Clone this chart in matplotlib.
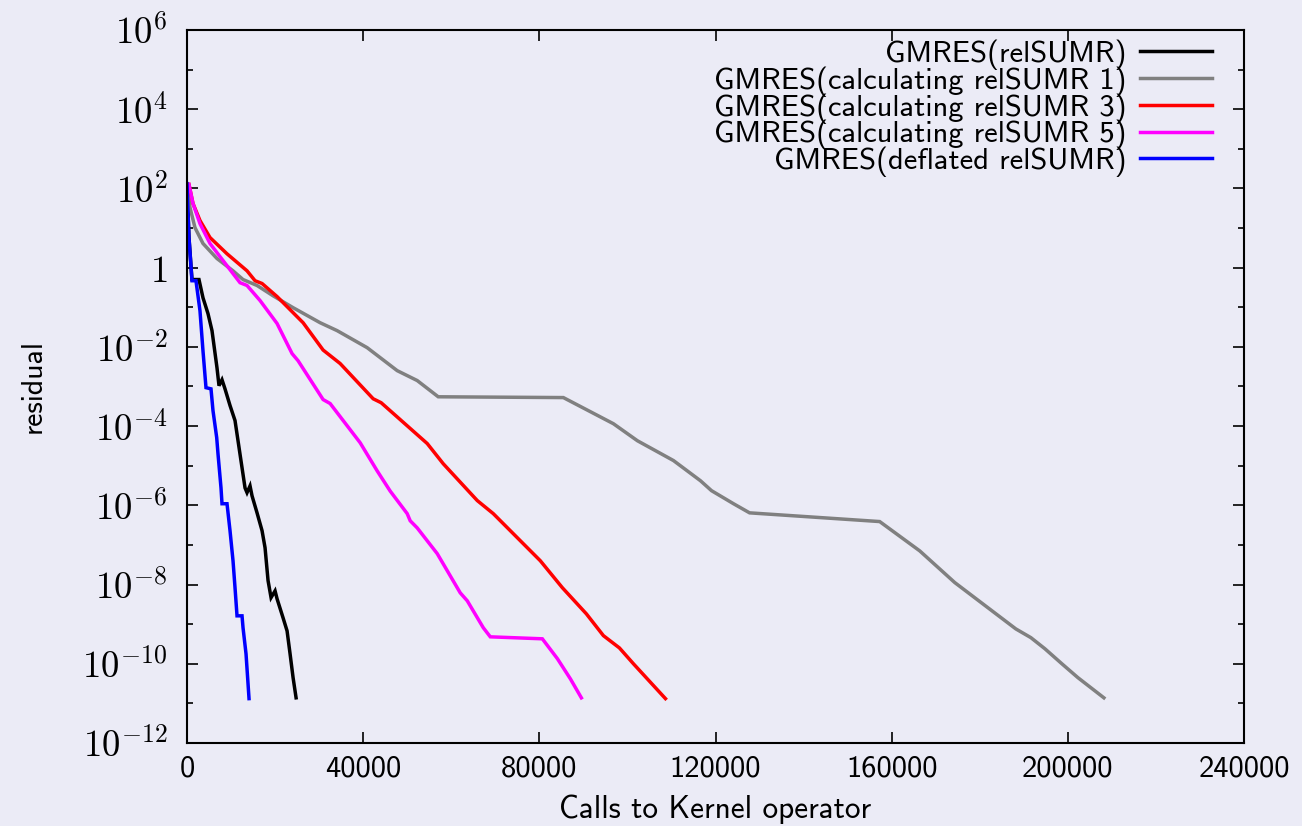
import numpy as np
import matplotlib
matplotlib.use("Agg")
import matplotlib.pyplot as plt
from matplotlib.ticker import FixedLocator, FuncFormatter, NullFormatter

plt.rcParams["mathtext.fontset"] = "cm"

# Kernel operator calls vs log10(residual) for each solver variant
relsumr_calls = [0, 455, 1136, 2727, 3636, 4773, 5682, 6818, 7273, 7955, 8636,
                 9773, 10909, 11591, 12500, 13182, 13636, 14318, 14773, 15909,
                 17045, 17727, 18409, 19091, 20000, 20455, 21818, 22727, 23409,
                 24091, 24773]
relsumr_log = [2.10, 0.76, -0.30, -0.30, -0.76, -1.16, -1.59, -2.53, -2.98,
               -2.83, -3.06, -3.48, -3.86, -4.37, -5.05, -5.56, -5.68, -5.51,
               -5.76, -6.19, -6.64, -7.07, -7.90, -8.33, -8.16, -8.36, -8.84,
               -9.17, -9.75, -10.35, -10.86]

calc1_calls = [0, 682, 1818, 3636, 6818, 10455, 12727, 15909, 19545, 24091,
               30227, 34091, 40909, 47727, 52273, 57045, 85455, 96818, 102273,
               110455, 116591, 119091, 124091, 127727, 157273, 166364, 174318,
               188182, 191591, 194773, 198636, 202273, 208182]
calc1_log = [2.10, 1.52, 1.01, 0.61, 0.23, -0.08, -0.30, -0.45, -0.71, -1.01,
             -1.39, -1.59, -2.02, -2.60, -2.85, -3.26, -3.28, -3.94, -4.37,
             -4.87, -5.38, -5.63, -5.96, -6.19, -6.41, -7.15, -7.95, -9.12,
             -9.34, -9.62, -10.00, -10.35, -10.86]

calc3_calls = [455, 1364, 2955, 5227, 9091, 13636, 15455, 17045, 20455, 26364,
               30909, 34773, 42273, 44091, 54545, 58182, 65909, 69545, 80227,
               85227, 90682, 94545, 98182, 101364, 108636]
calc3_log = [2.10, 1.62, 1.19, 0.76, 0.35, -0.08, -0.33, -0.40, -0.73, -1.39,
             -2.08, -2.42, -3.31, -3.41, -4.44, -4.95, -5.88, -6.21, -7.40,
             -8.08, -8.74, -9.29, -9.60, -10.00, -10.88]

calc5_calls = [455, 1364, 2955, 5227, 8182, 10455, 12045, 13636, 16591, 20455,
               23864, 25227, 30909, 32500, 39318, 43182, 46136, 50000, 50682,
               52273, 56818, 62045, 63636, 67273, 68864, 80682, 84091, 87045,
               89545]
calc5_log = [2.10, 1.62, 1.11, 0.61, 0.18, -0.15, -0.38, -0.45, -0.83, -1.41,
             -2.17, -2.35, -3.33, -3.43, -4.42, -5.13, -5.64, -6.21, -6.39,
             -6.57, -7.22, -8.21, -8.41, -9.09, -9.32, -9.37, -9.87, -10.38,
             -10.86]

deflated_calls = [0, 455, 1136, 2045, 2955, 3636, 4318, 5455, 5909, 6750, 7045,
                  7727, 7955, 9091, 9773, 10455, 10909, 11364, 12500, 12727,
                  13409, 14091]
deflated_log = [2.12, 0.76, -0.33, -0.33, -1.09, -2.10, -3.03, -3.06, -3.61,
                -4.29, -4.70, -5.56, -5.96, -5.96, -6.64, -7.40, -8.08, -8.79,
                -8.79, -9.09, -9.75, -10.88]

series = [
    ("GMRES(relSUMR)", relsumr_calls, relsumr_log, "black"),
    ("GMRES(calculating relSUMR 1)", calc1_calls, calc1_log, "#808080"),
    ("GMRES(calculating relSUMR 3)", calc3_calls, calc3_log, "#ff0000"),
    ("GMRES(calculating relSUMR 5)", calc5_calls, calc5_log, "#ff00ff"),
    ("GMRES(deflated relSUMR)", deflated_calls, deflated_log, "#0000ff"),
]

sans = "cmss10"
bg = "#ebebf6"
fig = plt.figure(figsize=(13.02, 8.26), dpi=100, facecolor=bg)
ax = fig.add_axes([0.1436, 0.1005, 0.8119, 0.8632])
ax.set_facecolor(bg)

for label, xs, logs, color in series:
    ax.plot(xs, 10.0 ** np.array(logs), color=color, lw=2.5, label=label,
            solid_joinstyle="miter")

ax.set_yscale("log")
ax.set_xlim(0, 240000)
ax.set_ylim(1e-12, 1e6)

major_y = [10.0 ** k for k in range(-12, 7, 2)]
minor_y = [10.0 ** k for k in range(-11, 6, 2)]
ax.yaxis.set_major_locator(FixedLocator(major_y))
ax.yaxis.set_minor_locator(FixedLocator(minor_y))
ax.yaxis.set_minor_formatter(NullFormatter())


def ylab(v, pos):
    k = int(round(np.log10(v)))
    if k == 0:
        return r"$1$"
    return r"$10^{%d}$" % k


ax.yaxis.set_major_formatter(FuncFormatter(ylab))
ax.xaxis.set_major_locator(FixedLocator(np.arange(0, 240001, 40000)))
ax.xaxis.set_major_formatter(FuncFormatter(lambda v, p: "%d" % v))
ax.xaxis.set_minor_locator(FixedLocator([]))

ax.tick_params(which="both", direction="in", top=True, right=True, width=1.2)
ax.tick_params(which="major", length=8)
ax.tick_params(which="minor", length=4.5)
ax.tick_params(axis="y", labelsize=26.5, pad=14)
ax.tick_params(axis="x", labelsize=22, pad=9)
for t in ax.get_xticklabels():
    t.set_fontfamily(sans)
for s in ax.spines.values():
    s.set_linewidth(1.5)

ax.set_xlabel("Calls to Kernel operator", fontsize=22.5, family=sans,
              labelpad=9)
ax.set_ylabel("residual", fontsize=21.5, family=sans, labelpad=26)

ax.legend(loc="upper right", bbox_to_anchor=(0.981, 1.004), frameon=False,
          markerfirst=False, prop={"family": sans, "size": 22},
          handlelength=2.35, handletextpad=0.45, labelspacing=-0.12,
          borderaxespad=0)

fig.savefig("out.png", dpi=100, facecolor=bg)
